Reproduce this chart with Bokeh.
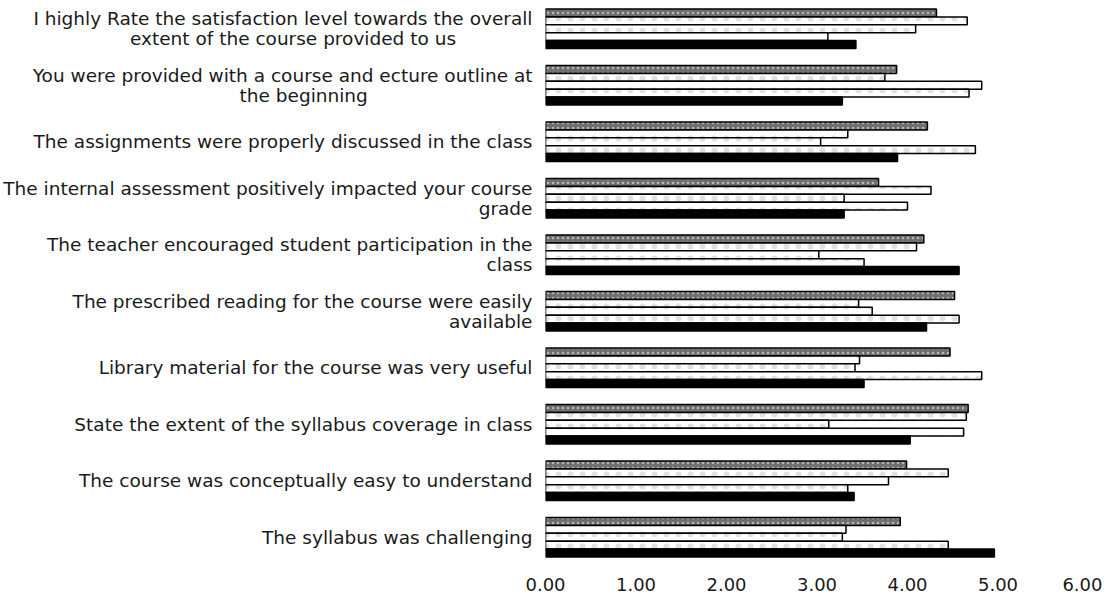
from bokeh.plotting import figure
from bokeh.models import ColumnDataSource, FactorRange, Range1d, FixedTicker, NumeralTickFormatter
from bokeh.transform import dodge
from bokeh.embed import file_html
from bokeh.resources import INLINE

# categories, listed top to bottom as in the chart
categories = [
    "I highly Rate the satisfaction level towards the overall\nextent of the course provided to us",
    "You were provided with a course and ecture outline at\nthe beginning",
    "The assignments were properly discussed in the class",
    "The internal assessment positively impacted your course\ngrade",
    "The teacher encouraged student participation in the\nclass",
    "The prescribed reading for the course were easily\navailable",
    "Library material for the course was very useful",
    "State the extent of the syllabus coverage in class",
    "The course was conceptually easy to understand",
    "The syllabus was challenging",
]

# five series per category (top bar of each group first)
series_5 = [4.32, 3.88, 4.22, 3.68, 4.18, 4.52, 4.47, 4.67, 3.99, 3.92]
series_4 = [4.66, 3.75, 3.34, 4.26, 4.10, 3.46, 3.47, 4.65, 4.45, 3.32]
series_3 = [4.09, 4.82, 3.04, 3.30, 3.02, 3.61, 3.42, 3.13, 3.79, 3.28]
series_2 = [3.12, 4.68, 4.75, 4.00, 3.52, 4.57, 4.82, 4.62, 3.34, 4.45]
series_1 = [3.43, 3.28, 3.89, 3.30, 4.57, 4.21, 3.52, 4.03, 3.41, 4.96]

x_ticks = [0, 1, 2, 3, 4, 5, 6]

# the second line of the first two labels sits centred under the first line
NB = "\u00a0"
centre_pad = {0: 13, 1: 28}
labels = []
for i, c in enumerate(categories):
    if i in centre_pad:
        labels.append(c + NB * centre_pad[i])
    else:
        labels.append(c)

src = ColumnDataSource(dict(cat=labels, s5=series_5, s4=series_4,
                            s3=series_3, s2=series_2, s1=series_1))

p = figure(width=1102, height=593,
           y_range=FactorRange(factors=labels[::-1]),
           x_range=Range1d(0, 6),
           output_backend="svg", toolbar_location=None,
           min_border_left=542, min_border_right=14,
           min_border_top=0, min_border_bottom=28)

bar_h = 0.14
white_tex = dict(fill_color="#ffffff", hatch_pattern="dot", hatch_color="#777777",
                 hatch_scale=12, hatch_alpha=0.22)
styles = [
    ("s5", 0.28, dict(fill_color="#6e6e6e", hatch_pattern="dot", hatch_color="#ffffff",
                       hatch_scale=5, hatch_alpha=0.5)),
    ("s4", 0.14, white_tex),
    ("s3", 0.0, white_tex),
    ("s2", -0.14, white_tex),
    ("s1", -0.28, dict(fill_color="#000000")),
]
for col, off, st in styles:
    p.hbar(y=dodge("cat", off, range=p.y_range), left=0, right=col, height=bar_h,
           source=src, line_color="#000000", line_width=1.5, **st)

p.outline_line_color = None
p.xgrid.grid_line_color = None
p.ygrid.grid_line_color = None

p.xaxis.ticker = FixedTicker(ticks=x_ticks)
p.xaxis.formatter = NumeralTickFormatter(format="0.00")
p.xaxis.axis_line_color = None
p.xaxis.major_tick_line_color = None
p.xaxis.minor_tick_line_color = None
p.xaxis.major_label_standoff = 6
p.xaxis.major_label_text_font = "DejaVu Sans"
p.xaxis.major_label_text_font_size = "18px"
p.xaxis.major_label_text_color = "#1a1a1a"

p.yaxis.axis_line_color = None
p.yaxis.major_tick_line_color = None
p.yaxis.minor_tick_line_color = None
p.yaxis.major_label_standoff = 7
p.yaxis.major_label_text_font = "DejaVu Sans"
p.yaxis.major_label_text_font_size = "18.5px"
p.yaxis.major_label_text_line_height = 0.93
p.yaxis.major_label_text_color = "#1a1a1a"

open("out.html", "w").write(file_html(p, INLINE))
